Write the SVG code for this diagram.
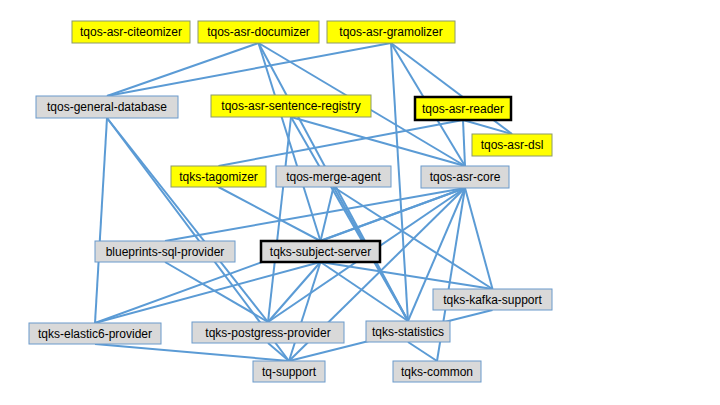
<svg xmlns="http://www.w3.org/2000/svg" width="720" height="405" viewBox="0 0 720 405">
<style>
.e{stroke:#5b9bd5;stroke-width:2;fill:none}
.y{fill:#ffff00;stroke:#8c9a6a;stroke-width:1}
.g{fill:#d9d9d9;stroke:#6a9acb;stroke-width:1}
.b{stroke:#000;stroke-width:2.5}
text{font-family:"Liberation Sans",Arial,sans-serif;font-size:12px;fill:#000;text-anchor:middle}
</style>
<rect width="720" height="405" fill="#fff"/>
<g id="connectors">
<line class="e" x1="258.5" y1="43" x2="107" y2="96"/>
<line class="e" x1="391" y1="43" x2="107" y2="96"/>
<line class="e" x1="258.5" y1="43" x2="465" y2="166"/>
<line class="e" x1="258.5" y1="43" x2="320.5" y2="241"/>
<line class="e" x1="258.5" y1="43" x2="408" y2="321"/>
<line class="e" x1="391" y1="43" x2="408" y2="321"/>
<line class="e" x1="391" y1="43" x2="465" y2="166"/>
<line class="e" x1="391" y1="43" x2="512" y2="134"/>
<line class="e" x1="463" y1="120" x2="512" y2="134"/>
<line class="e" x1="463" y1="120" x2="218.5" y2="166"/>
<line class="e" x1="463" y1="120" x2="465" y2="166"/>
<line class="e" x1="291" y1="117" x2="465" y2="166"/>
<line class="e" x1="291" y1="117" x2="268" y2="322"/>
<line class="e" x1="291" y1="117" x2="408" y2="321"/>
<line class="e" x1="107" y1="118" x2="95" y2="323"/>
<line class="e" x1="107" y1="118" x2="268" y2="322"/>
<line class="e" x1="107" y1="118" x2="289" y2="361"/>
<line class="e" x1="165" y1="262" x2="268" y2="322"/>
<line class="e" x1="218.5" y1="187" x2="320.5" y2="241"/>
<line class="e" x1="333.5" y1="187" x2="320.5" y2="241"/>
<line class="e" x1="333.5" y1="187" x2="408" y2="321"/>
<line class="e" x1="333.5" y1="187" x2="492.5" y2="289"/>
<line class="e" x1="465" y1="188" x2="165" y2="241"/>
<line class="e" x1="465" y1="188" x2="320.5" y2="241"/>
<line class="e" x1="465" y1="188" x2="268" y2="322"/>
<line class="e" x1="465" y1="188" x2="289" y2="361"/>
<line class="e" x1="465" y1="188" x2="408" y2="321"/>
<line class="e" x1="465" y1="188" x2="492.5" y2="289"/>
<line class="e" x1="465" y1="188" x2="437" y2="361"/>
<line class="e" x1="465" y1="188" x2="95" y2="323"/>
<line class="e" x1="320.5" y1="262" x2="268" y2="322"/>
<line class="e" x1="320.5" y1="262" x2="289" y2="361"/>
<line class="e" x1="320.5" y1="262" x2="408" y2="321"/>
<line class="e" x1="320.5" y1="262" x2="492.5" y2="289"/>
<line class="e" x1="320.5" y1="262" x2="95" y2="323"/>
<line class="e" x1="95" y1="344" x2="289" y2="361"/>
<line class="e" x1="268" y1="343" x2="289" y2="361"/>
<line class="e" x1="492.5" y1="310" x2="289" y2="361"/>
<line class="e" x1="408" y1="342" x2="437" y2="361"/>
</g>
<g id="citeomizer"><rect class="y" x="72" y="21" width="118" height="22"/><text x="131" y="36">tqos-asr-citeomizer</text></g>
<g id="documizer"><rect class="y" x="198" y="21" width="121" height="22"/><text x="258.5" y="36">tqos-asr-documizer</text></g>
<g id="gramolizer"><rect class="y" x="327" y="21" width="128" height="22"/><text x="391" y="36">tqos-asr-gramolizer</text></g>
<g id="general-database"><rect class="g" x="36" y="96" width="142" height="22"/><text x="107" y="111">tqos-general-database</text></g>
<g id="sentence-registry"><rect class="y" x="211" y="95" width="160" height="22"/><text x="291" y="110">tqos-asr-sentence-registry</text></g>
<g id="reader"><rect class="y b" x="415" y="97" width="96" height="23"/><text x="463" y="113">tqos-asr-reader</text></g>
<g id="dsl"><rect class="y" x="472" y="134" width="80" height="22"/><text x="512" y="149">tqos-asr-dsl</text></g>
<g id="tagomizer"><rect class="y" x="171" y="166" width="95" height="21"/><text x="218.5" y="181">tqks-tagomizer</text></g>
<g id="merge-agent"><rect class="g" x="276" y="166" width="115" height="21"/><text x="333.5" y="181">tqos-merge-agent</text></g>
<g id="asr-core"><rect class="g" x="421" y="166" width="88" height="22"/><text x="465" y="181">tqos-asr-core</text></g>
<g id="blueprints"><rect class="g" x="95" y="241" width="140" height="21"/><text x="165" y="256">blueprints-sql-provider</text></g>
<g id="subject-server"><rect class="g b" x="261" y="241" width="119" height="21"/><text x="320.5" y="256">tqks-subject-server</text></g>
<g id="kafka-support"><rect class="g" x="433" y="289" width="119" height="21"/><text x="492.5" y="304">tqks-kafka-support</text></g>
<g id="elastic6-provider"><rect class="g" x="29" y="323" width="132" height="21"/><text x="95" y="338">tqks-elastic6-provider</text></g>
<g id="postgress-provider"><rect class="g" x="192" y="322" width="152" height="21"/><text x="268" y="337">tqks-postgress-provider</text></g>
<g id="statistics"><rect class="g" x="366" y="321" width="84" height="21"/><text x="408" y="336">tqks-statistics</text></g>
<g id="tq-support"><rect class="g" x="253" y="361" width="72" height="21"/><text x="289" y="376">tq-support</text></g>
<g id="common"><rect class="g" x="393" y="361" width="88" height="21"/><text x="437" y="376">tqks-common</text></g>
</svg>
